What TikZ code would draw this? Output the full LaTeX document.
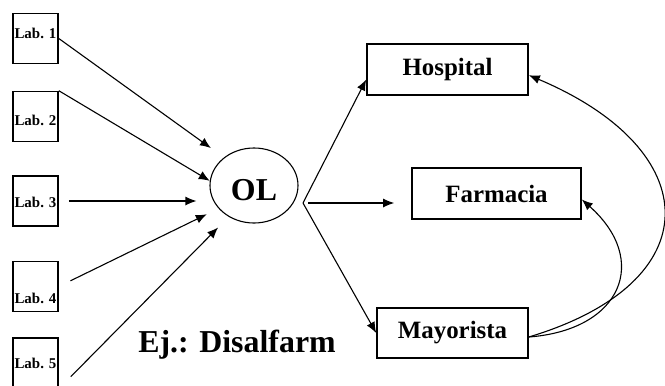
\documentclass[tikz,border=0pt]{standalone}
\usepackage{fontspec}
\setmainfont{Liberation Serif}
\usetikzlibrary{arrows.meta,shapes.geometric}

\begin{document}
\begin{tikzpicture}[x=1bp, y=1bp, line width=1.1bp,
    >={Latex[length=11bp,width=9bp]},
    labbox/.style={draw, line width=1.6bp, minimum width=45bp, minimum height=50bp, inner sep=0pt},
    labtext/.style={anchor=base, inner sep=0pt, font=\fontsize{15}{18}\selectfont\bfseries},
    dest/.style={draw, line width=1.6bp, minimum height=51bp, inner sep=0pt, font=\fontsize{25}{30}\selectfont\bfseries}]
  \useasboundingbox (0,0) rectangle (665,385);

  % The five laboratories, each label at its own height in the box
  \foreach \i/\y/\ty in {1/346.5/347, 2/268.5/260, 3/184/178, 4/98.5/82, 5/22/17} {
    \node [labbox] (lab\i) at (35.5,\y) {};
    \node [labtext] (labtxt\i) at (35.5,\ty) {Lab. \i};
  }

  % The logistics operator
  \node [draw, ellipse, minimum width=88bp, minimum height=75bp, inner sep=0pt,
         text height=30bp, font=\fontsize{32}{38}\selectfont\bfseries] (ol) at (254,199.5) {OL};

  % Arrows from the laboratories into OL
  \foreach \from/\to/\s/\e in {
    lab1.east/ol.137/0/16,
    lab2.north east/ol.174/0/0,
    lab4.east/ol.213/13/13,
    lab5.south east/ol.231/17/15} {
    \draw [->, shorten <=\s bp, shorten >=\e bp] (\from) -- (\to);
  }
  \draw [->, shorten <=10bp, shorten >=13bp] (lab3.east) -- (lab3.east -| ol.west);

  % Destinations
  \node [dest, minimum width=161bp] (hosp) at (447.5,315.5) {Hospital};
  \node [dest, minimum width=169bp] (farm) at (496.5,191.5) {Farmacia};
  \node [dest, minimum width=151bp, minimum height=50bp] (mayo) at (452.5,52) {Mayorista};

  % Distribution out of OL
  \coordinate (fork) at (303,182);
  \draw [->] (fork) -- (hosp.187);
  \draw [->] (fork) -- (mayo.west);
  \draw [->, shorten <=5bp, shorten >=17bp] (fork) -- (fork -| farm.west);

  % The wholesaler supplies hospital and pharmacy
  \draw [->] (mayo.-3) .. controls (712,103) and (706,235) .. (hosp.-4);
  \draw [->] (mayo.-3) .. controls (622,55) and (650,125) .. (farm.-4);

  \node [anchor=base, font=\fontsize{32}{38}\selectfont\bfseries] (ej) at (237,33) {Ej.: Disalfarm};
\end{tikzpicture}
\end{document}
